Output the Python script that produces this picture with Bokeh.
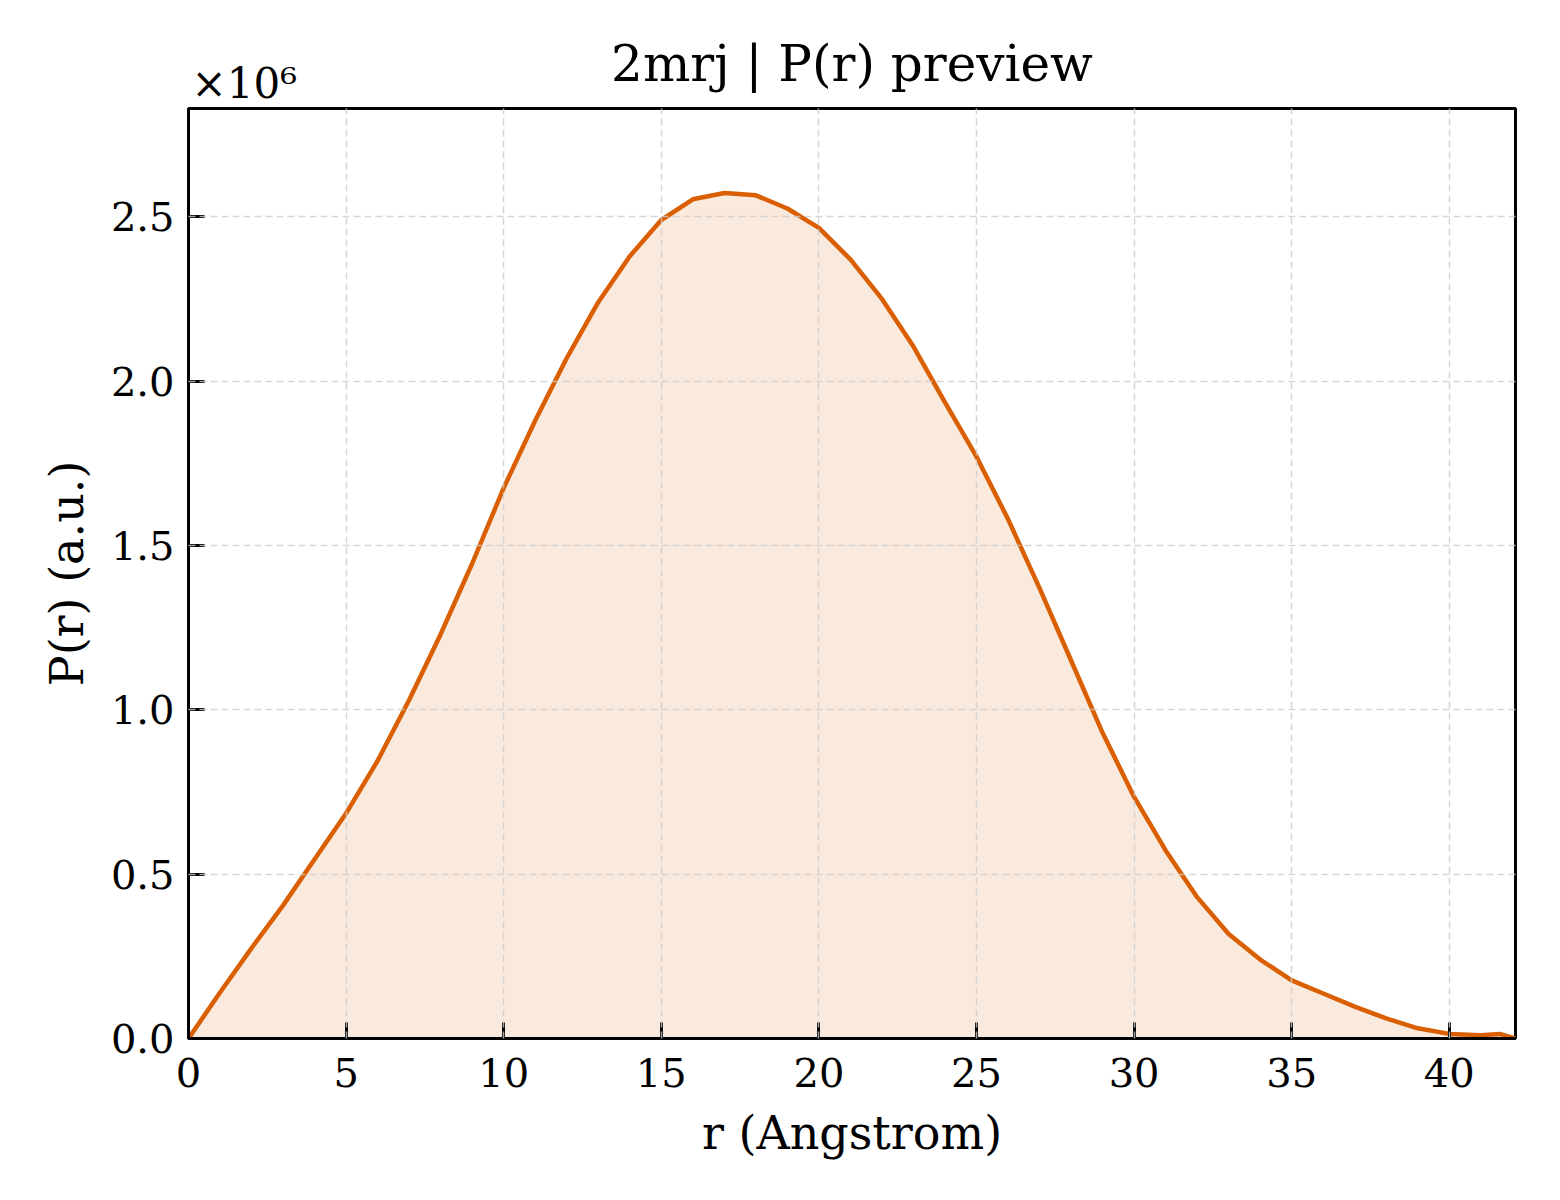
from bokeh.plotting import figure
from bokeh.models import Range1d, FixedTicker, PrintfTickFormatter, ColumnDataSource, Title
from bokeh.embed import file_html
from bokeh.resources import INLINE

# P(r) distance distribution for 2mrj (values in units of 1e6)
r_angstrom = [0, 1, 2, 3, 4, 5, 6, 7, 8, 9, 10, 11, 12, 13, 14, 15, 16, 17, 18, 19, 20,
              21, 22, 23, 24, 25, 26, 27, 28, 29, 30, 31, 32, 33, 34, 35, 36, 37, 38, 39,
              40, 41, 41.6, 42.1]
pr_millions = [0.0, 0.14, 0.275, 0.405, 0.545, 0.685, 0.845, 1.03, 1.23, 1.445, 1.675,
               1.88, 2.07, 2.24, 2.38, 2.49, 2.553, 2.572, 2.565, 2.525, 2.466,
               2.37, 2.25, 2.105, 1.935, 1.77, 1.58, 1.37, 1.15, 0.93, 0.735,
               0.572, 0.43, 0.318, 0.24, 0.177, 0.137, 0.097, 0.061, 0.031,
               0.014, 0.010, 0.014, 0.0]
x_ticks = [0, 5, 10, 15, 20, 25, 30, 35, 40]
y_ticks = [0.0, 0.5, 1.0, 1.5, 2.0, 2.5]

SERIF = "DejaVu Serif"
ORANGE = "#d95f02"

src = ColumnDataSource(data=dict(r=r_angstrom, pr=pr_millions))

x_max = max(r_angstrom)
y_max = max(pr_millions) * 1.1

p = figure(width=1544, height=1184, output_backend="svg", toolbar_location=None,
           x_range=Range1d(0, x_max), y_range=Range1d(0, y_max),
           min_border_left=188, min_border_right=29, min_border_top=108, min_border_bottom=146)

p.varea(x="r", y1=0, y2="pr", source=src, fill_color=ORANGE, fill_alpha=0.13)
p.line(x="r", y="pr", source=src, line_color=ORANGE, line_width=4.5)

p.title.text = "2mrj | P(r) preview"
p.title.align = "center"
p.title.text_font = SERIF
p.title.text_font_style = "normal"
p.title.text_font_size = "50px"
p.title.text_color = "black"
p.title.standoff = -75

p.outline_line_color = "black"
p.outline_line_width = 3
p.outline_line_alpha = 1.0

for ax in (p.xaxis[0], p.yaxis[0]):
    ax.axis_line_width = 3
    ax.axis_line_color = "black"
    ax.major_tick_in = 16
    ax.major_tick_out = 0
    ax.major_tick_line_width = 3
    ax.minor_tick_line_color = None
    ax.major_label_text_font = SERIF
    ax.major_label_text_font_size = "40px"
    ax.major_label_text_color = "black"
    ax.axis_label_text_font = SERIF
    ax.axis_label_text_font_size = "46px"
    ax.axis_label_text_font_style = "normal"
    ax.axis_label_text_color = "black"

p.xaxis.ticker = FixedTicker(ticks=x_ticks)
p.yaxis.ticker = FixedTicker(ticks=y_ticks)
p.yaxis.formatter = PrintfTickFormatter(format="%.1f")
p.xaxis.major_label_standoff = 19
p.yaxis.major_label_standoff = 14
p.xaxis.axis_label = "r (Angstrom)"
p.yaxis.axis_label = "P(r) (a.u.)"
p.xaxis.axis_label_standoff = 16
p.yaxis.axis_label_standoff = 14

for g in (p.xgrid[0], p.ygrid[0]):
    g.grid_line_color = "#cccccc"
    g.grid_line_width = 1.5
    g.grid_line_dash = "7 4"
    g.grid_line_alpha = 0.8
    g.level = "overlay"

p.background_fill_color = "white"
p.border_fill_color = "white"

# axis offset text (scale factor of the y axis)
p.add_layout(Title(text="×10⁶", align="left", text_font=SERIF, text_font_size="42px",
                   text_font_style="normal", text_color="black", standoff=2, offset=3), "above")

open("out.html", "w").write(file_html(p, INLINE))
